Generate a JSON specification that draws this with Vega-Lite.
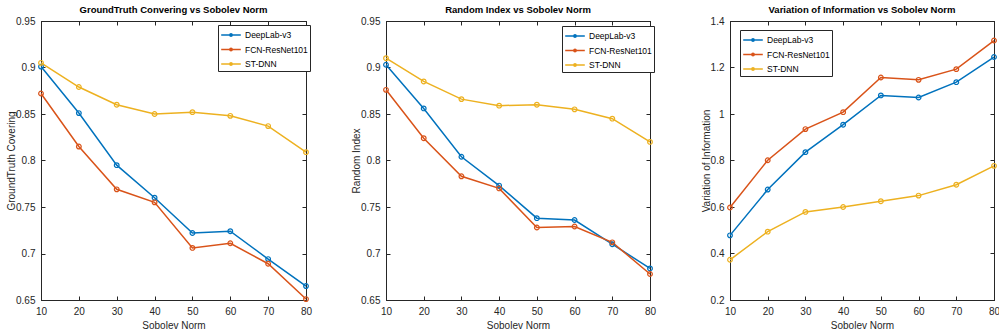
{
  "$schema": "https://vega.github.io/schema/vega-lite/v6.json",
  "padding": {"left": 6, "top": 4, "right": 5, "bottom": 0},
  "background": "white",
  "bounds": "flush",
  "spacing": 80,
  "resolve": {"legend": {"color": "independent"}},
  "config": {
    "font": "Liberation Sans",
    "view": {"stroke": "#262626", "strokeWidth": 1},
    "title": {"font": "Liberation Sans", "fontSize": 9.5, "fontWeight": "bold", "color": "black", "offset": 2},
    "axis": {
      "grid": false, "domainColor": "#262626", "tickColor": "#262626", "tickSize": -4, "labelFlush": false,
      "labelPadding": 10, "labelFont": "Liberation Sans", "labelFontSize": 10, "labelColor": "#262626",
      "titleFont": "Liberation Sans", "titleFontSize": 10, "titleFontWeight": "normal", "titleColor": "#262626"
    },
    "axisX": {"titlePadding": 4, "labelPadding": 10},
    "axisY": {"titlePadding": -1},
    "legend": {
      "orient": "none", "strokeColor": "#262626", "fillColor": "white", "padding": 2,
      "labelFont": "Liberation Sans", "labelFontSize": 8.5, "labelColor": "black", "labelOffset": 6, "symbolOffset": 3,
      "symbolType": "M-1.4,0L1.4,0M0.17,0L0.12,0.12L0,0.17L-0.12,0.12L-0.17,0L-0.12,-0.12L0,-0.17L0.12,-0.12Z",
      "symbolSize": 196, "symbolStrokeWidth": 1.5, "symbolFillColor": "transparent", "rowPadding": 1.5
    }
  },
  "datasets": {
    "gt": [
      {"n": 10, "m": "DeepLab-v3", "v": 0.901}, {"n": 20, "m": "DeepLab-v3", "v": 0.851}, {"n": 30, "m": "DeepLab-v3", "v": 0.795}, {"n": 40, "m": "DeepLab-v3", "v": 0.760},
      {"n": 50, "m": "DeepLab-v3", "v": 0.722}, {"n": 60, "m": "DeepLab-v3", "v": 0.724}, {"n": 70, "m": "DeepLab-v3", "v": 0.694}, {"n": 80, "m": "DeepLab-v3", "v": 0.665},
      {"n": 10, "m": "FCN-ResNet101", "v": 0.872}, {"n": 20, "m": "FCN-ResNet101", "v": 0.815}, {"n": 30, "m": "FCN-ResNet101", "v": 0.769}, {"n": 40, "m": "FCN-ResNet101", "v": 0.755},
      {"n": 50, "m": "FCN-ResNet101", "v": 0.706}, {"n": 60, "m": "FCN-ResNet101", "v": 0.711}, {"n": 70, "m": "FCN-ResNet101", "v": 0.689}, {"n": 80, "m": "FCN-ResNet101", "v": 0.651},
      {"n": 10, "m": "ST-DNN", "v": 0.905}, {"n": 20, "m": "ST-DNN", "v": 0.879}, {"n": 30, "m": "ST-DNN", "v": 0.860}, {"n": 40, "m": "ST-DNN", "v": 0.850},
      {"n": 50, "m": "ST-DNN", "v": 0.852}, {"n": 60, "m": "ST-DNN", "v": 0.848}, {"n": 70, "m": "ST-DNN", "v": 0.837}, {"n": 80, "m": "ST-DNN", "v": 0.809}
    ],
    "ri": [
      {"n": 10, "m": "DeepLab-v3", "v": 0.903}, {"n": 20, "m": "DeepLab-v3", "v": 0.856}, {"n": 30, "m": "DeepLab-v3", "v": 0.804}, {"n": 40, "m": "DeepLab-v3", "v": 0.773},
      {"n": 50, "m": "DeepLab-v3", "v": 0.738}, {"n": 60, "m": "DeepLab-v3", "v": 0.736}, {"n": 70, "m": "DeepLab-v3", "v": 0.710}, {"n": 80, "m": "DeepLab-v3", "v": 0.684},
      {"n": 10, "m": "FCN-ResNet101", "v": 0.876}, {"n": 20, "m": "FCN-ResNet101", "v": 0.824}, {"n": 30, "m": "FCN-ResNet101", "v": 0.783}, {"n": 40, "m": "FCN-ResNet101", "v": 0.770},
      {"n": 50, "m": "FCN-ResNet101", "v": 0.728}, {"n": 60, "m": "FCN-ResNet101", "v": 0.729}, {"n": 70, "m": "FCN-ResNet101", "v": 0.712}, {"n": 80, "m": "FCN-ResNet101", "v": 0.678},
      {"n": 10, "m": "ST-DNN", "v": 0.910}, {"n": 20, "m": "ST-DNN", "v": 0.885}, {"n": 30, "m": "ST-DNN", "v": 0.866}, {"n": 40, "m": "ST-DNN", "v": 0.859},
      {"n": 50, "m": "ST-DNN", "v": 0.860}, {"n": 60, "m": "ST-DNN", "v": 0.855}, {"n": 70, "m": "ST-DNN", "v": 0.845}, {"n": 80, "m": "ST-DNN", "v": 0.820}
    ],
    "vi": [
      {"n": 10, "m": "DeepLab-v3", "v": 0.478}, {"n": 20, "m": "DeepLab-v3", "v": 0.675}, {"n": 30, "m": "DeepLab-v3", "v": 0.836}, {"n": 40, "m": "DeepLab-v3", "v": 0.954},
      {"n": 50, "m": "DeepLab-v3", "v": 1.080}, {"n": 60, "m": "DeepLab-v3", "v": 1.071}, {"n": 70, "m": "DeepLab-v3", "v": 1.137}, {"n": 80, "m": "DeepLab-v3", "v": 1.245},
      {"n": 10, "m": "FCN-ResNet101", "v": 0.598}, {"n": 20, "m": "FCN-ResNet101", "v": 0.801}, {"n": 30, "m": "FCN-ResNet101", "v": 0.935}, {"n": 40, "m": "FCN-ResNet101", "v": 1.008},
      {"n": 50, "m": "FCN-ResNet101", "v": 1.157}, {"n": 60, "m": "FCN-ResNet101", "v": 1.147}, {"n": 70, "m": "FCN-ResNet101", "v": 1.193}, {"n": 80, "m": "FCN-ResNet101", "v": 1.316},
      {"n": 10, "m": "ST-DNN", "v": 0.373}, {"n": 20, "m": "ST-DNN", "v": 0.494}, {"n": 30, "m": "ST-DNN", "v": 0.579}, {"n": 40, "m": "ST-DNN", "v": 0.600},
      {"n": 50, "m": "ST-DNN", "v": 0.625}, {"n": 60, "m": "ST-DNN", "v": 0.649}, {"n": 70, "m": "ST-DNN", "v": 0.696}, {"n": 80, "m": "ST-DNN", "v": 0.777}
    ]
  },
  "hconcat": [
    {
      "width": 265, "height": 279,
      "title": "GroundTruth Convering vs Sobolev Norm",
      "data": {"name": "gt"},
      "layer": [
        {
          "mark": {"type": "line", "strokeWidth": 1.5, "point": {"filled": false, "size": 22, "strokeWidth": 1.2}},
          "encoding": {
            "x": {"field": "n", "type": "quantitative", "scale": {"domain": [10, 80], "nice": false}, "axis": {"values": [10, 20, 30, 40, 50, 60, 70, 80], "title": "Sobolev Norm"}},
            "y": {"field": "v", "type": "quantitative", "scale": {"domain": [0.65, 0.95], "nice": false, "zero": false}, "axis": {"values": [0.65, 0.7, 0.75, 0.8, 0.85, 0.9, 0.95], "format": ".2~f", "title": "GroundTruth Covering"}},
            "color": {"field": "m", "type": "nominal", "title": null, "scale": {"domain": ["DeepLab-v3", "FCN-ResNet101", "ST-DNN"], "range": ["#0072BD", "#D95319", "#EDB120"]}, "legend": {"legendX": 177, "legendY": 4}}
          }
        },
        {
          "mark": {"type": "line", "opacity": 0},
          "encoding": {
            "x": {"field": "n", "type": "quantitative", "axis": {"orient": "top", "values": [10, 20, 30, 40, 50, 60, 70, 80], "labels": false, "labelPadding": 0, "title": null}},
            "y": {"field": "v", "type": "quantitative", "axis": {"orient": "right", "values": [0.65, 0.7, 0.75, 0.8, 0.85, 0.9, 0.95], "labels": false, "labelPadding": 0, "title": null}},
            "detail": {"field": "m"}
          }
        }
      ],
      "resolve": {"axis": {"x": "independent", "y": "independent"}}
    },
    {
      "width": 264, "height": 279,
      "title": "Random Index vs Sobolev Norm",
      "data": {"name": "ri"},
      "layer": [
        {
          "mark": {"type": "line", "strokeWidth": 1.5, "point": {"filled": false, "size": 22, "strokeWidth": 1.2}},
          "encoding": {
            "x": {"field": "n", "type": "quantitative", "scale": {"domain": [10, 80], "nice": false}, "axis": {"values": [10, 20, 30, 40, 50, 60, 70, 80], "title": "Sobolev Norm"}},
            "y": {"field": "v", "type": "quantitative", "scale": {"domain": [0.65, 0.95], "nice": false, "zero": false}, "axis": {"values": [0.65, 0.7, 0.75, 0.8, 0.85, 0.9, 0.95], "format": ".2~f", "title": "Random Index"}},
            "color": {"field": "m", "type": "nominal", "title": null, "scale": {"domain": ["DeepLab-v3", "FCN-ResNet101", "ST-DNN"], "range": ["#0072BD", "#D95319", "#EDB120"]}, "legend": {"legendX": 176, "legendY": 5}}
          }
        },
        {
          "mark": {"type": "line", "opacity": 0},
          "encoding": {
            "x": {"field": "n", "type": "quantitative", "axis": {"orient": "top", "values": [10, 20, 30, 40, 50, 60, 70, 80], "labels": false, "labelPadding": 0, "title": null}},
            "y": {"field": "v", "type": "quantitative", "axis": {"orient": "right", "values": [0.65, 0.7, 0.75, 0.8, 0.85, 0.9, 0.95], "labels": false, "labelPadding": 0, "title": null}},
            "detail": {"field": "m"}
          }
        }
      ],
      "resolve": {"axis": {"x": "independent", "y": "independent"}}
    },
    {
      "width": 264, "height": 279,
      "title": "Variation of Information vs Sobolev Norm",
      "data": {"name": "vi"},
      "layer": [
        {
          "mark": {"type": "line", "strokeWidth": 1.5, "point": {"filled": false, "size": 22, "strokeWidth": 1.2}},
          "encoding": {
            "x": {"field": "n", "type": "quantitative", "scale": {"domain": [10, 80], "nice": false}, "axis": {"values": [10, 20, 30, 40, 50, 60, 70, 80], "title": "Sobolev Norm"}},
            "y": {"field": "v", "type": "quantitative", "scale": {"domain": [0.2, 1.4], "nice": false, "zero": false}, "axis": {"values": [0.2, 0.4, 0.6, 0.8, 1, 1.2, 1.4], "format": ".2~f", "title": "Variation of Information"}},
            "color": {"field": "m", "type": "nominal", "title": null, "scale": {"domain": ["DeepLab-v3", "FCN-ResNet101", "ST-DNN"], "range": ["#0072BD", "#D95319", "#EDB120"]}, "legend": {"legendX": 10, "legendY": 9}}
          }
        },
        {
          "mark": {"type": "line", "opacity": 0},
          "encoding": {
            "x": {"field": "n", "type": "quantitative", "axis": {"orient": "top", "values": [10, 20, 30, 40, 50, 60, 70, 80], "labels": false, "labelPadding": 0, "title": null}},
            "y": {"field": "v", "type": "quantitative", "axis": {"orient": "right", "values": [0.2, 0.4, 0.6, 0.8, 1, 1.2, 1.4], "labels": false, "labelPadding": 0, "title": null}},
            "detail": {"field": "m"}
          }
        }
      ],
      "resolve": {"axis": {"x": "independent", "y": "independent"}}
    }
  ]
}
